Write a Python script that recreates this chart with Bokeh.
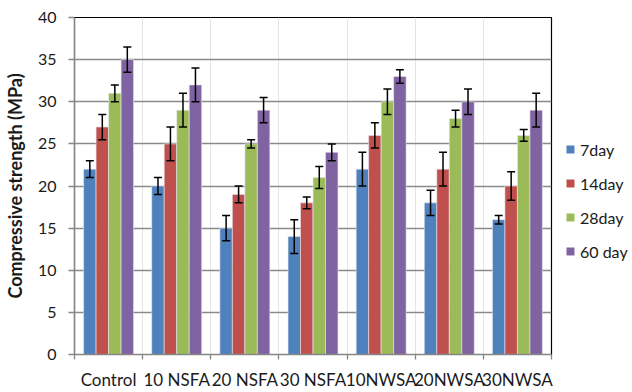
from bokeh.plotting import figure
from bokeh.models import (ColumnDataSource, LinearAxis, FixedTicker, Whisker, TeeHead,
                          Legend, LegendItem, Range1d)
from bokeh.layouts import row
from bokeh.transform import dodge
from bokeh.embed import file_html
from bokeh.resources import INLINE

categories = ["Control", "10 NSFA", "20 NSFA", "30 NSFA", "10NWSA", "20NWSA", "30NWSA"]
series = ["7day", "14day", "28day", "60 day"]
colors = ["#4F81BD", "#C0504D", "#9BBB59", "#8064A2"]

d7 = [22, 20, 15, 14, 22, 18, 16]
e7 = [1, 1, 1.5, 2, 2, 1.5, 0.5]
d14 = [27, 25, 19, 18, 26, 22, 20]
e14 = [1.5, 2, 1, 0.7, 1.5, 2, 1.7]
d28 = [31, 29, 25, 21, 30, 28, 26]
e28 = [1, 2, 0.5, 1.3, 1.5, 1, 0.7]
d60 = [35, 32, 29, 24, 33, 30, 29]
e60 = [1.5, 2, 1.5, 1, 0.8, 1.5, 2]

y_ticks = [0, 5, 10, 15, 20, 25, 30, 35, 40]

values = [d7, d14, d28, d60]
errors = [e7, e14, e28, e60]

FONT = "Lato"
n = len(categories)
centres = [i + 0.5 for i in range(n)]

p = figure(x_range=Range1d(0, n), y_range=Range1d(0, 40), width=560, height=392,
           output_backend="svg", toolbar_location=None, x_axis_location=None,
           min_border_left=74, min_border_right=9, min_border_top=17, min_border_bottom=34)
p.background_fill_color = "white"
p.border_fill_color = "white"
p.outline_line_color = "black"
p.outline_line_width = 1.2

offsets = [-0.275, -0.092, 0.092, 0.275]
bw = 0.183
sources = []
for name, vals, errs, col, off in zip(series, values, errors, colors, offsets):
    src = ColumnDataSource(dict(pos=centres, val=vals,
                                up=[v + e for v, e in zip(vals, errs)],
                                lo=[v - e for v, e in zip(vals, errs)]))
    sources.append(src)
    p.vbar(x=dodge("pos", off), top="val", width=bw, source=src,
           fill_color=col, line_color="#e8e8f0", line_width=0.6)
    w = Whisker(base=dodge("pos", off), upper="up", lower="lo", source=src,
                line_color="black", line_width=1.5, level="overlay",
                upper_head=TeeHead(size=8, line_color="black", line_width=1.5),
                lower_head=TeeHead(size=8, line_color="black", line_width=1.5))
    p.add_layout(w)

# x axis: labels at category centres, tick marks at boundaries
xt = FixedTicker(ticks=centres, minor_ticks=list(range(n + 1)))
xaxis = LinearAxis(ticker=xt)
xaxis.major_label_overrides = {c: name for c, name in zip(centres, categories)}
xaxis.major_tick_out = 0
xaxis.major_tick_in = 0
xaxis.minor_tick_out = 5
xaxis.minor_tick_in = 0
xaxis.minor_tick_line_color = "#868686"
xaxis.minor_tick_line_width = 1.3
xaxis.axis_line_color = "#868686"
xaxis.axis_line_width = 1.3
xaxis.major_label_text_font = FONT
xaxis.major_label_text_font_size = "17px"
xaxis.major_label_text_color = "#1a1a1a"
xaxis.major_label_standoff = 9
p.add_layout(xaxis, "below")

yaxis = p.yaxis[0]
yaxis.ticker = FixedTicker(ticks=y_ticks)
yaxis.axis_label = "Compressive strength (MPa)"
yaxis.axis_label_text_font = FONT
yaxis.axis_label_text_font_style = "bold"
yaxis.axis_label_text_font_size = "18px"
yaxis.axis_label_text_color = "#1a1a1a"
yaxis.axis_label_standoff = 9
yaxis.major_label_text_font = FONT
yaxis.major_label_text_font_size = "16px"
yaxis.major_label_text_color = "#1a1a1a"
yaxis.major_label_standoff = 12
yaxis.major_tick_out = 6
yaxis.major_tick_in = 0
yaxis.minor_tick_line_color = None
yaxis.major_tick_line_color = "#868686"
yaxis.major_tick_line_width = 1.3
yaxis.axis_line_color = "#868686"
yaxis.axis_line_width = 1.3

p.ygrid.grid_line_color = "#8a8a8a"
p.ygrid.grid_line_width = 1.3

# legend panel (hidden copies of the series supply the legend swatches)
pl = figure(x_range=Range1d(0, n), y_range=Range1d(0, 40), width=72, height=392,
            output_backend="svg", toolbar_location=None,
            x_axis_location=None, y_axis_location=None,
            min_border_left=0, min_border_right=0, min_border_top=0, min_border_bottom=0)
pl.outline_line_color = None
pl.xgrid.visible = False
pl.ygrid.visible = False
items = []
for name, col, src in zip(series, colors, sources):
    r = pl.vbar(x="pos", top="val", width=bw, source=src, fill_color=col, line_color=None)
    r.visible = False
    items.append(LegendItem(label=name, renderers=[r]))

legend = Legend(items=items, location=(5, 93), orientation="vertical")
legend.click_policy = "none"
legend.border_line_color = None
legend.background_fill_alpha = 0
legend.padding = 0
legend.margin = 0
legend.glyph_width = 10
legend.glyph_height = 10
legend.label_height = 20
legend.spacing = 14
legend.label_standoff = 5
legend.label_text_font = FONT
legend.label_text_font_size = "16px"
legend.label_text_color = "#1a1a1a"
pl.add_layout(legend, "center")

layout = row(p, pl, spacing=0)
open("out.html", "w").write(file_html(layout, INLINE))
